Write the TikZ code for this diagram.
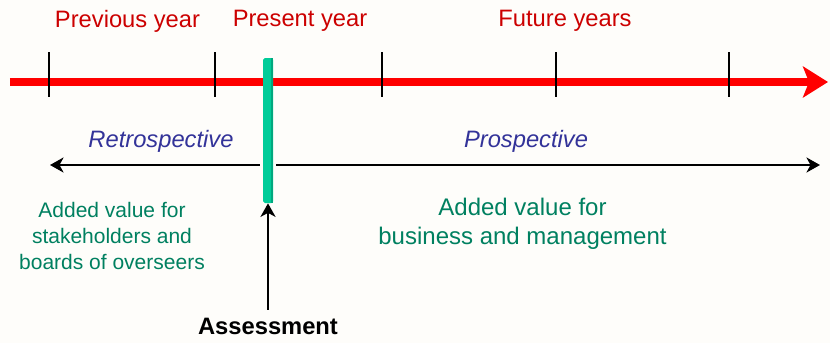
\documentclass[tikz,border=0pt]{standalone}
\usepackage{fontspec}
\setmainfont{Liberation Sans}
\usetikzlibrary{arrows.meta}
\definecolor{bgcream}{RGB}{254,253,250}
\definecolor{yearred}{RGB}{204,0,0}
\definecolor{spectblue}{RGB}{51,51,153}
\definecolor{valuegreen}{RGB}{0,128,96}
\definecolor{barturq}{RGB}{0,204,153}
\definecolor{barshade}{RGB}{0,168,126}
\tikzset{
  yearlabel/.style={text=yearred,font=\fontsize{13.5}{16}\selectfont},
  spectlabel/.style={text=spectblue,font=\fontsize{13.5}{16}\selectfont\itshape},
  spanarrow/.style={line width=1.7pt,-{Stealth[length=0.27cm,width=0.3cm,inset=0.08cm]}},
}
\begin{document}
\begin{tikzpicture}
  \fill[bgcream] (0,0) rectangle (16.6,6.86);
  \useasboundingbox (0,0) rectangle (16.6,6.86);
  % time line
  \coordinate (tstart) at (0.2,5.22);
  \coordinate (tend) at (16.56,5.22);
  \draw[red,line width=4pt,-{Stealth[length=0.5cm,width=0.62cm,inset=0.12cm]}] (tstart) -- (tend);
  \foreach \x in {0.98,4.3,7.64,11.12,14.58} % year ticks
    \draw[line width=1.1pt] (\x,5.82) -- (\x,4.92);
  \node[yearlabel] (prev) at (2.55,6.44) {Previous year};
  \node[yearlabel] (pres) at (6.0,6.44) {Present year};
  \node[yearlabel] (fut) at (11.3,6.44) {Future years};

  % assessment bar
  \node[fill=barturq,minimum width=0.2cm,minimum height=2.9cm,inner sep=0pt,rounded corners=1pt] (bar) at (5.36,4.25) {};
  \fill[barshade] ([xshift=-1.5pt]bar.north east) rectangle (bar.south east);

  \coordinate (retro) at (1.0,3.56);
  \coordinate (pros) at (16.4,3.56);
  \draw[spanarrow,shorten <=0.06cm] (bar.west |- retro) -- (retro);
  \draw[spanarrow,shorten <=0.06cm] (bar.east |- pros) -- (pros);
  \node[spectlabel] (retrolabel) at (3.22,4.03) {Retrospective};
  \node[spectlabel] (proslabel) at (10.52,4.03) {Prospective};

  \node[text=valuegreen,align=center,font=\fontsize{11.95}{14.8}\selectfont] (stake) at (2.24,2.14)
    {Added value for\\ stakeholders and\\ boards of overseers};
  \node[text=valuegreen,align=center,font=\fontsize{13.66}{16.5}\selectfont] (business) at (10.45,2.39)
    {Added value for\\ business and management};

  \node[font=\fontsize{13.5}{16}\selectfont\bfseries] (assess) at (5.36,0.33) {Assessment};
  \draw[spanarrow,shorten <=0.05cm] (assess.north) -- (bar.south);
\end{tikzpicture}
\end{document}
